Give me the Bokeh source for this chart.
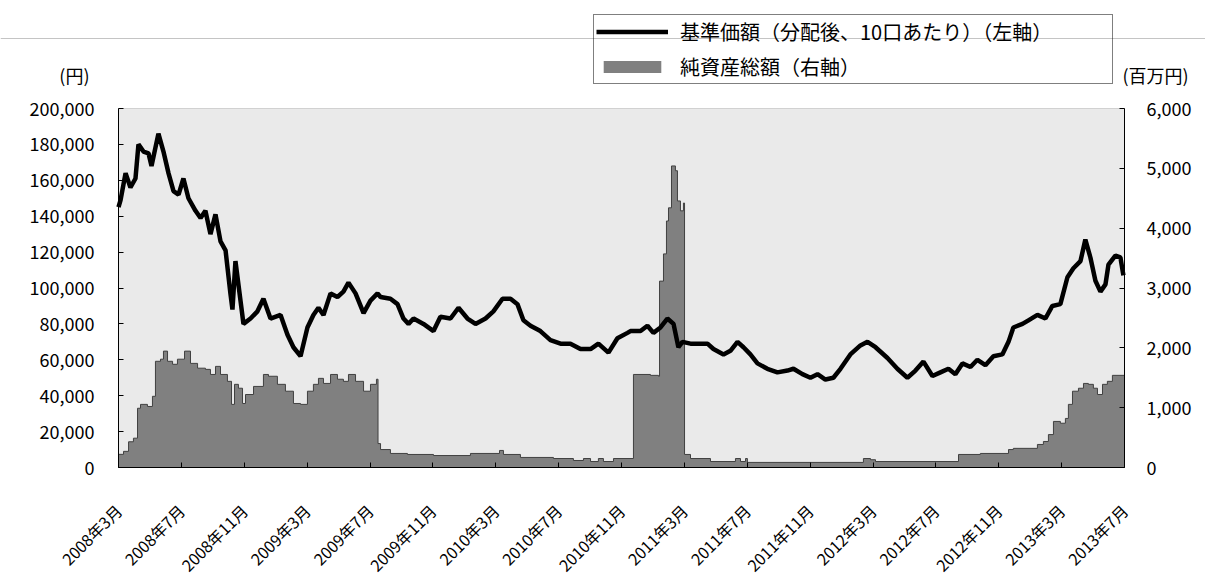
import math
from bokeh.plotting import figure
from bokeh.models import (Range1d, LinearAxis, FixedTicker, NumeralTickFormatter,
                          Legend, LegendItem, Label, Span, BoxAnnotation)
from bokeh.embed import file_html
from bokeh.resources import INLINE

FONT = "Noto Sans CJK JP"

# x positions: months elapsed since 2008-03 (0 = 2008年3月)
tick_months = [0, 4, 8, 12, 16, 20, 24, 28, 32, 36, 40, 44, 48, 52, 56, 60, 64]
tick_labels = ["2008年3月", "2008年7月", "2008年11月", "2009年3月", "2009年7月", "2009年11月",
               "2010年3月", "2010年7月", "2010年11月", "2011年3月", "2011年7月", "2011年11月",
               "2012年3月", "2012年7月", "2012年11月", "2013年3月", "2013年7月"]

# 基準価額（円）
nav_month = [0.00, 0.13, 0.45, 0.76, 1.08, 1.27, 1.59, 1.91, 2.10, 2.54,
             2.86, 3.18, 3.50, 3.82, 4.13, 4.45, 4.90, 5.22, 5.53, 5.85,
             6.17, 6.49, 6.81, 7.12, 7.25, 7.44, 7.76, 7.95, 8.40, 8.84,
             9.22, 9.67, 10.31, 10.75, 11.13, 11.58, 12.02, 12.40, 12.72, 13.04,
             13.49, 13.93, 14.31, 14.63, 15.08, 15.59, 16.03, 16.48, 16.67, 17.30,
             17.75, 18.13, 18.45, 18.77, 19.40, 20.04, 20.48, 21.12, 21.63, 22.20,
             22.71, 23.35, 23.85, 24.43, 24.94, 25.38, 25.76, 26.21, 26.84, 27.48,
             28.12, 28.75, 29.39, 30.03, 30.53, 31.17, 31.74, 32.38, 32.57, 33.21,
             33.65, 34.03, 34.48, 34.92, 35.31, 35.62, 35.88, 36.39, 37.02, 37.47,
             37.85, 38.49, 38.93, 39.38, 39.76, 40.20, 40.65, 41.28, 41.92, 42.56,
             42.94, 43.51, 44.02, 44.47, 44.97, 45.48, 45.93, 46.56, 47.20, 47.65,
             48.16, 48.92, 49.55, 50.19, 50.70, 51.21, 51.78, 52.29, 52.80, 53.24,
             53.69, 54.20, 54.64, 55.15, 55.66, 56.23, 56.62, 56.93, 57.51, 57.89,
             58.46, 58.97, 59.41, 59.92, 60.37, 60.75, 61.20, 61.51, 61.83, 62.15,
             62.47, 62.79, 62.98, 63.42, 63.74, 63.93]
nav_value = [145000, 149000, 164000, 156000, 161000, 180000, 176000, 175000, 168000, 186000,
             176000, 164000, 154000, 152000, 161000, 150000, 143000, 139000, 143000, 130000,
             141000, 126000, 121000, 97000, 88000, 115000, 93000, 80000, 83000, 87000,
             94000, 83000, 85000, 74000, 67000, 62000, 78000, 85000, 89000, 85000,
             97000, 95000, 98000, 103000, 97000, 86000, 93000, 97000, 95000, 94000,
             91000, 83000, 80000, 83000, 80000, 76000, 84000, 83000, 89000, 83000,
             80000, 83000, 87000, 94000, 94000, 91000, 82000, 79000, 76000, 71000,
             69000, 69000, 66000, 66000, 69000, 64000, 72000, 75000, 76000, 76000,
             79000, 75000, 78000, 83000, 80000, 67000, 70000, 69000, 69000, 69000,
             66000, 63000, 65000, 70000, 67000, 63000, 58000, 55000, 53000, 54000,
             55000, 52000, 50000, 52000, 49000, 50000, 55000, 63000, 68000, 70000,
             67000, 61000, 55000, 50000, 54000, 59000, 51000, 53000, 55000, 52000,
             58000, 56000, 60000, 57000, 62000, 63000, 70000, 78000, 80000, 82000,
             85000, 83000, 90000, 91000, 106000, 111000, 115000, 127000, 117000, 104000,
             98000, 102000, 113000, 118000, 117000, 107000]

# 純資産総額（百万円）
asset_month = [0.00, 0.32, 0.64, 0.95, 1.21, 1.40, 1.84, 2.16, 2.35, 2.67,
               2.86, 3.12, 3.44, 3.75, 4.20, 4.58, 5.03, 5.53, 5.85, 6.17,
               6.49, 6.93, 7.19, 7.38, 7.63, 7.89, 8.08, 8.59, 9.22, 9.54,
               10.11, 10.62, 11.13, 11.58, 12.02, 12.40, 12.72, 13.04, 13.49, 13.93,
               14.31, 14.63, 15.08, 15.59, 16.03, 16.41, 16.51, 16.67, 17.30, 18.38,
               20.04, 22.39, 24.24, 24.49, 25.57, 27.67, 28.94, 29.58, 30.03, 30.53,
               30.85, 31.49, 32.76, 33.84, 34.35, 34.42, 34.67, 34.86, 34.99, 35.18,
               35.43, 35.56, 35.75, 35.94, 36.01, 36.39, 37.66, 39.25, 39.57, 39.89,
               40.01, 47.39, 47.84, 48.16, 53.44, 54.83, 56.62, 56.93, 58.46, 58.84,
               59.16, 59.48, 59.92, 60.24, 60.43, 60.69, 61.07, 61.39, 61.70, 62.02,
               62.28, 62.60, 62.91, 63.23, 64.00]
asset_value = [220, 270, 430, 490, 990, 1055, 1020, 1190, 1775, 1810,
               1945, 1775, 1725, 1810, 1945, 1740, 1660, 1640, 1555, 1690,
               1555, 1440, 1055, 1390, 1325, 1070, 1220, 1355, 1555, 1525,
               1390, 1275, 1070, 1055, 1275, 1390, 1490, 1405, 1555, 1475,
               1440, 1555, 1440, 1275, 1390, 1475, 400, 300, 235, 218,
               200, 235, 285, 218, 168, 150, 117, 150, 100, 150,
               100, 150, 1555, 1540, 1525, 3115, 3570, 4120, 4340, 5040,
               4960, 4455, 4290, 4420, 218, 150, 100, 150, 100, 150,
               85, 150, 130, 100, 218, 235, 300, 320, 385, 435,
               550, 770, 740, 820, 1055, 1275, 1325, 1405, 1390, 1325,
               1220, 1390, 1440, 1540, 1540]

left_ticks = [0, 20000, 40000, 60000, 80000, 100000, 120000, 140000, 160000, 180000, 200000]
right_ticks = [0, 1000, 2000, 3000, 4000, 5000, 6000]

# ---- layout geometry (page pixels; the page has no body margin) ----
FIG_W, FIG_H = 1205, 585
X0_PX, X1_PX = 118, 1124      # plot-area left / right
Y0_PX, Y1_PX = 467, 108       # plot-area bottom / top
XMAX, YMAX, RMAX = 64, 200000, 6000
kx = (X1_PX - X0_PX) / XMAX
ky = (Y0_PX - Y1_PX) / YMAX


def dx(px):
    return (px - X0_PX) / kx


def dy(py):
    return (Y0_PX - py) / ky


y_lo, y_hi = dy(FIG_H), dy(0)
p = figure(width=FIG_W, height=FIG_H, output_backend="svg", toolbar_location=None,
           x_range=Range1d(dx(0), dx(FIG_W)), y_range=Range1d(y_lo, y_hi),
           x_axis_type=None, y_axis_type=None,
           min_border_left=0, min_border_right=0, min_border_top=0, min_border_bottom=0)
p.extra_y_ranges = {"right": Range1d(y_lo * RMAX / YMAX, y_hi * RMAX / YMAX)}
p.background_fill_color = "white"
p.border_fill_color = "white"
p.outline_line_color = None
p.grid.visible = False

# plot area background
p.add_layout(BoxAnnotation(left=0, right=XMAX, bottom=0, top=YMAX, fill_color="#EAEAEA",
                           fill_alpha=1, line_color="#808080", line_width=1, level="underlay"))
# header rule
p.add_layout(Span(location=dy(38), dimension="width", line_color="#C4C4C4", line_width=1,
                  level="underlay"))


def style_axis(ax, standoff, size):
    ax.axis_line_color = "black"
    ax.major_tick_line_color = "black"
    ax.minor_tick_line_color = None
    ax.major_tick_in = 5
    ax.major_tick_out = 0
    ax.major_label_standoff = standoff
    ax.major_label_text_font = FONT
    ax.major_label_text_font_size = size
    ax.major_label_text_color = "black"


left_axis = LinearAxis(fixed_location=0, bounds=(0, YMAX), ticker=FixedTicker(ticks=left_ticks),
                       formatter=NumeralTickFormatter(format="0,0"))
style_axis(left_axis, 24, "18px")
p.add_layout(left_axis, "left")

right_axis = LinearAxis(y_range_name="right", fixed_location=XMAX, bounds=(0, RMAX),
                        ticker=FixedTicker(ticks=right_ticks),
                        formatter=NumeralTickFormatter(format="0,0"))
style_axis(right_axis, 22, "18px")
p.add_layout(right_axis, "right")

bottom_axis = LinearAxis(fixed_location=0, bounds=(0, XMAX), ticker=FixedTicker(ticks=tick_months),
                         major_label_overrides={m: t for m, t in zip(tick_months, tick_labels)})
style_axis(bottom_axis, 40, "16px")
bottom_axis.major_label_orientation = math.pi / 4
p.add_layout(bottom_axis, "below")

# net assets (right axis), step area
area_r = p.varea_step(x=asset_month, y1=[0] * len(asset_month), y2=asset_value,
                      step_mode="after", fill_color="#808080", y_range_name="right")
p.step(x=asset_month, y=asset_value, mode="after", line_color="#404040",
       line_width=1, y_range_name="right")

# NAV line (left axis)
nav_r = p.line(x=nav_month, y=nav_value, line_color="black", line_width=4.5)

legend = Legend(items=[LegendItem(label="基準価額（分配後、10口あたり）（左軸）", renderers=[nav_r]),
                       LegendItem(label="純資産総額（右軸）", renderers=[area_r])],
                location=(593, FIG_H - 84), margin=0, padding=2, spacing=6,
                glyph_width=72, glyph_height=15, label_height=24, label_width=430,
                label_standoff=12,
                label_text_font=FONT, label_text_font_size="20px", label_text_color="black",
                border_line_color="black", border_line_width=1,
                background_fill_alpha=0)
p.add_layout(legend)

p.add_layout(Label(x=dx(89), y=dy(74), text="(円)", text_align="right", text_baseline="middle",
                   text_font=FONT, text_font_size="18px", text_color="black"))
p.add_layout(Label(x=dx(1122), y=dy(74), text="(百万円)", text_align="left", text_baseline="middle",
                   text_font=FONT, text_font_size="18px", text_color="black"))

open("out.html", "w").write(file_html(p, INLINE))
